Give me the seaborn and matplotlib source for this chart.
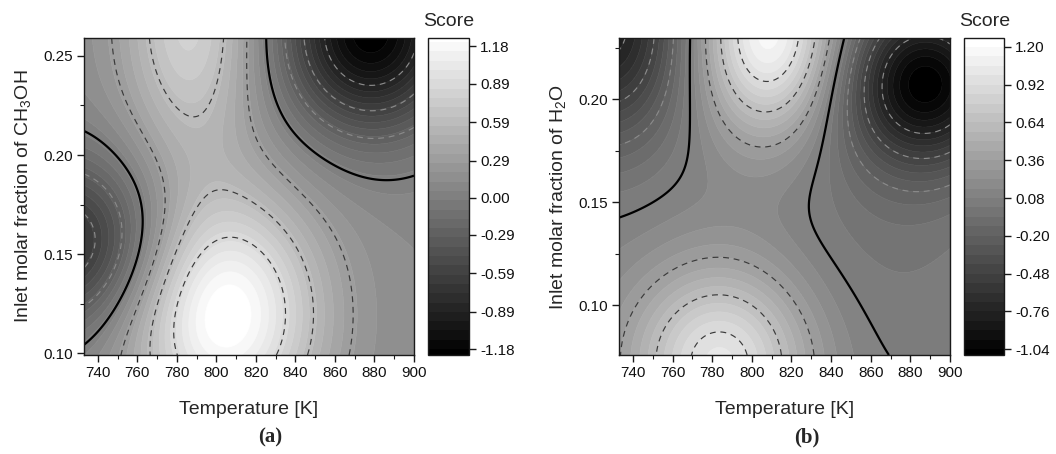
import numpy as np
import matplotlib
matplotlib.use("Agg")
import matplotlib.pyplot as plt
import seaborn as sns

# ------------------------------------------------------------------ data
temp_limits = [733, 900]
temp_ticks = [740, 760, 780, 800, 820, 840, 860, 880, 900]

# panel (a): CH3OH
a_ylimits = [0.0992, 0.259]
a_yticks = [0.10, 0.15, 0.20, 0.25]
a_cbar_ticks = [-1.18, -0.89, -0.59, -0.29, 0.00, 0.29, 0.59, 0.89, 1.18]
a_score_range = [-1.226, 1.245]
a_baseline = 0.12
a_peak_temp = [804, 787, 878, 725]
a_peak_frac = [0.120, 0.268, 0.262, 0.155]
a_peak_score = [1.20, 0.70, -1.36, -0.90]
a_width_temp = [33, 24, 31, 35]
a_width_frac = [0.042, 0.050, 0.035, 0.031]
a_dashed_levels = [-0.89, -0.59, -0.29, 0.29, 0.59, 0.89]
a_solid_levels = [0.00]

# panel (b): H2O
b_ylimits = [0.0757, 0.2298]
b_yticks = [0.10, 0.15, 0.20]
b_cbar_ticks = [-1.04, -0.76, -0.48, -0.20, 0.08, 0.36, 0.64, 0.92, 1.20]
b_score_range = [-1.083, 1.266]
b_baseline = 0.12
b_peak_temp = [809, 784, 727, 888, 870]
b_peak_frac = [0.232, 0.072, 0.236, 0.208, 0.170]
b_peak_score = [1.10, 0.90, -0.95, -1.10, -0.15]
b_width_temp = [24, 31, 28, 28, 40]
b_width_frac = [0.034, 0.032, 0.040, 0.028, 0.070]
b_dashed_levels = [-0.76, -0.48, -0.20, 0.36, 0.64, 0.92]
b_solid_levels = [0.08]

# ------------------------------------------------------------------ style
W, H = 1056, 454
sns.set_theme(style="ticks")
plt.rcParams.update({
    "font.family": ["Liberation Sans", "DejaVu Sans"],
    "mathtext.fontset": "custom",
    "mathtext.rm": "Liberation Sans",
    "mathtext.it": "Liberation Sans:italic",
    "mathtext.bf": "Liberation Sans:bold",
    "mathtext.default": "regular",
    "axes.unicode_minus": False,
    "axes.edgecolor": "#1a1a1a",
    "axes.linewidth": 1.0,
    "xtick.color": "#1a1a1a",
    "ytick.color": "#1a1a1a",
    "xtick.labelcolor": "#111111",
    "ytick.labelcolor": "#111111",
    "xtick.direction": "out",
    "ytick.direction": "out",
    "xtick.major.size": 5,
    "ytick.major.size": 5,
    "xtick.minor.size": 3,
    "ytick.minor.size": 3,
    "xtick.major.width": 1.0,
    "ytick.major.width": 1.0,
    "xtick.minor.width": 0.8,
    "ytick.minor.width": 0.8,
    "xtick.labelsize": 11,
    "ytick.labelsize": 11,
})

fig = plt.figure(figsize=(W / 100, H / 100), dpi=100)


def px_axes(x0, y0, x1, y1):
    return fig.add_axes([x0 / W, (H - y1) / H, (x1 - x0) / W, (y1 - y0) / H])


def score_field(tt, xx, base, pt, pf, ps, wt, wf):
    z = np.full_like(tt, base, dtype=float)
    for t0, f0, s0, a, b in zip(pt, pf, ps, wt, wf):
        z += s0 * np.exp(-0.5 * (((tt - t0) / a) ** 2 + ((xx - f0) / b) ** 2))
    return z


def panel(ax, cax, ylim, yticks, ymin_step, cticks, srange, base, pt, pf, ps,
          wt, wf, dashed, solid, ylabel, label_x):
    t = np.linspace(temp_limits[0], temp_limits[1], 400)
    x = np.linspace(ylim[0], ylim[1], 400)
    tt, xx = np.meshgrid(t, x)
    z = score_field(tt, xx, base, pt, pf, ps, wt, wf)
    z = np.clip(z, srange[0], srange[1])

    step = (cticks[1] - cticks[0]) / 4.0
    n_inner = int(round((cticks[-1] - cticks[0]) / step)) + 1
    inner = [cticks[0] + k * step for k in range(n_inner)]
    levels = [srange[0]] + inner + [srange[1]]
    nb = len(levels) - 1
    band_colors = sns.blend_palette(["#000000", "#ffffff"], n_colors=nb)

    cf = ax.contourf(tt, xx, z, levels=levels, colors=band_colors, antialiased=True)
    cf.set_edgecolor("face")
    cf.set_linewidth(0.4)

    neg = [l for l in dashed if l < 0]
    pos = [l for l in dashed if l > 0]
    if neg:
        ax.contour(tt, xx, z, levels=neg, colors="#8a8a8a", linewidths=0.85,
                   linestyles=[(0, (5, 4))])
    if pos:
        ax.contour(tt, xx, z, levels=pos, colors="#3a3a3a", linewidths=0.85,
                   linestyles=[(0, (5, 4))])
    ax.contour(tt, xx, z, levels=solid, colors="black", linewidths=1.6,
               linestyles="solid")

    ax.set_xticks(temp_ticks)
    ax.set_xticks([v + 10 for v in temp_ticks[:-1]], minor=True)
    ax.set_yticks(yticks)
    minors = [v + ymin_step for v in [yticks[0] - 2 * ymin_step] + yticks]
    minors = [m for m in minors if ylim[0] < m < ylim[1]]
    ax.set_yticks(minors, minor=True)
    ax.set_yticklabels([f"{v:.2f}" for v in yticks])
    ax.set_xlim(temp_limits)
    ax.set_ylim(ylim)
    ax.tick_params(which="major", pad=3)
    ax.set_xlabel("Temperature [K]", fontsize=14)
    ax.xaxis.set_label_coords(0.5, -0.145)
    ax.set_ylabel(ylabel, fontsize=14)
    ax.yaxis.set_label_coords(label_x, 0.5)
    for s in ax.spines.values():
        s.set_visible(True)

    cb = fig.colorbar(cf, cax=cax, ticks=cticks, spacing="proportional")
    cb.ax.set_yticklabels([f"{v:.2f}" for v in cticks])
    cb.ax.tick_params(direction="out", length=5, width=1.0, labelsize=11, pad=3)
    cb.ax.minorticks_off()
    cb.outline.set_edgecolor("#1a1a1a")
    cb.outline.set_linewidth(1.0)
    return cf


ax_a = px_axes(84, 38, 414, 355)
cax_a = px_axes(428, 38, 469, 355)
ax_b = px_axes(619, 38, 950, 355)
cax_b = px_axes(964, 38, 1004, 355)

panel(ax_a, cax_a, a_ylimits, a_yticks, 0.025, a_cbar_ticks, a_score_range,
      a_baseline, a_peak_temp, a_peak_frac, a_peak_score, a_width_temp,
      a_width_frac, a_dashed_levels, a_solid_levels,
      "Inlet molar fraction of CH$_3$OH", -0.155)
panel(ax_b, cax_b, b_ylimits, b_yticks, 0.025, b_cbar_ticks, b_score_range,
      b_baseline, b_peak_temp, b_peak_frac, b_peak_score, b_width_temp,
      b_width_frac, b_dashed_levels, b_solid_levels,
      "Inlet molar fraction of H$_2$O", -0.154)

fig.text(449 / W, 1 - 21 / H, "Score", ha="center", va="center", fontsize=14)
fig.text(985 / W, 1 - 21 / H, "Score", ha="center", va="center", fontsize=14)
fig.text(270 / W, 1 - 437 / H, "(a)", ha="center", va="center", fontsize=15,
         fontweight="bold", family=["Liberation Serif", "DejaVu Serif"])
fig.text(807 / W, 1 - 437 / H, "(b)", ha="center", va="center", fontsize=15,
         fontweight="bold", family=["Liberation Serif", "DejaVu Serif"])

fig.savefig("out.png", dpi=100)
